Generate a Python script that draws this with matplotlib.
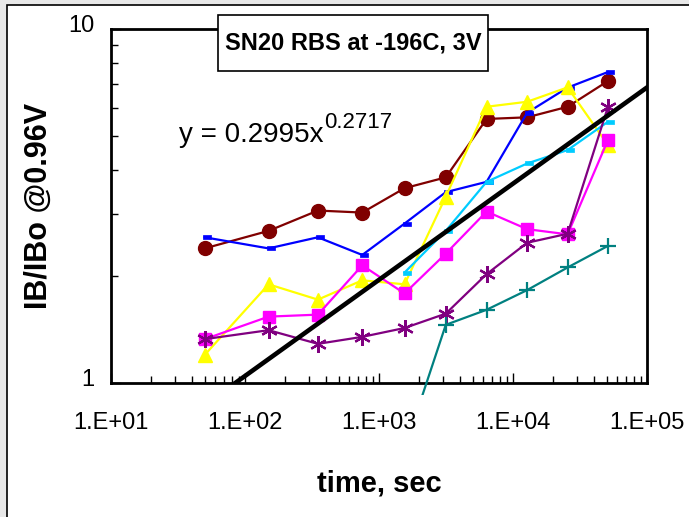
import matplotlib
matplotlib.use('Agg')
import matplotlib.pyplot as plt
import numpy as np
from matplotlib.patches import Rectangle
from matplotlib.path import Path
from matplotlib.ticker import LogLocator, NullFormatter
from matplotlib.transforms import ScaledTranslation

plt.rcParams['font.family'] = ['Liberation Sans', 'DejaVu Sans']

# ---------------- data ----------------
time_s = [50, 150, 350, 750, 1550, 3150, 6350, 12750, 25550, 51150]
time_late = [1550, 3150, 6350, 12750, 25550, 51150]

brown = [2.40, 2.69, 3.07, 3.03, 3.55, 3.81, 5.57, 5.63, 6.03, 7.13]
blue = [2.58, 2.40, 2.58, 2.30, 2.82, 3.46, 3.70, 5.80, 6.83, 7.56]
yellow = [1.20, 1.90, 1.72, 1.95, 1.90, 3.36, 6.03, 6.23, 6.84, 4.70]
magenta = [1.33, 1.54, 1.56, 2.15, 1.79, 2.32, 3.05, 2.72, 2.63, 4.86]
purple = [1.33, 1.41, 1.29, 1.35, 1.43, 1.57, 2.03, 2.49, 2.64, 6.03]
cyan = [2.05, 2.69, 3.70, 4.17, 4.55, 5.47]
teal = [0.65, 1.46, 1.61, 1.83, 2.12, 2.44]

fit_a = 0.2995
fit_b = 0.2717

xtick_values = [1e1, 1e2, 1e3, 1e4, 1e5]
xtick_labels = ['1.E+01', '1.E+02', '1.E+03', '1.E+04', '1.E+05']
ytick_values = [1, 10]
ytick_labels = ['1', '10']

title_text = 'SN20 RBS at -196C, 3V'
eq_main = 'y = 0.2995x'
eq_exp = '0.2717'
xlabel_text = 'time, sec'
ylabel_text = 'IB/IBo @0.96V'

# ---------------- figure ----------------
W, H = 689, 517
fig = plt.figure(figsize=(W / 100, H / 100), dpi=100)
fig.patch.set_facecolor('#e8e8e8')
frame = Rectangle((7 / W, -0.1), 1.2, 1.1 - 5 / H, transform=fig.transFigure,
                  facecolor='white', edgecolor='black', lw=1.2, zorder=-5)
fig.add_artist(frame)

ax = fig.add_axes([111 / W, 1 - 383 / H, 536 / W, 354 / H])
ax.set_facecolor('white')
ax.set_xscale('log')
ax.set_yscale('log')

dash = Path([(-0.55, -0.5), (1.45, -0.5), (1.45, 0.5), (-0.55, 0.5), (-0.55, -0.5)],
            [Path.MOVETO, Path.LINETO, Path.LINETO, Path.LINETO, Path.CLOSEPOLY])

lw = 1.6
ax.plot(time_s, brown, color='#800000', lw=lw, marker='o', ms=10, mec='#800000', zorder=3)
ax.plot(time_s, blue, color='#0000FF', lw=lw, marker=dash, ms=8, mec='#0000FF', mew=0.5, zorder=3)
ax.plot(time_s, yellow, color='#FFFF00', lw=lw, marker='^', ms=10, mec='#FFFF00', zorder=3)
ax.plot(time_s, magenta, color='#FF00FF', lw=lw, marker='s', ms=8.5, mec='#FF00FF', zorder=3)
ax.plot(time_late, cyan, color='#00CCFF', lw=lw, marker=dash, ms=8, mec='#00CCFF', mew=0.5, zorder=3)
ax.plot(time_s, purple, color='#800080', lw=lw, marker=(6, 2, 0), ms=12, mew=1.6, zorder=4)
teal_line, = ax.plot(time_late, teal, color='#008080', lw=lw, marker='+', ms=12, mew=1.6, zorder=4)
clip = Rectangle((0, -12 / 354), 1, 1 + 12 / 354, transform=ax.transAxes, visible=False)
ax.add_patch(clip)
teal_line.set_clip_path(clip)

xfit = np.logspace(1, 5, 200)
ax.plot(xfit, fit_a * xfit ** fit_b, color='black', lw=3.3, zorder=5)

ax.set_xlim(1e1, 1e5)
ax.set_ylim(1, 10)

ax.set_xticks(xtick_values)
ax.set_xticklabels(xtick_labels)
ax.set_yticks(ytick_values)
ax.set_yticklabels(ytick_labels)
ax.xaxis.set_minor_locator(LogLocator(base=10, subs=np.arange(2, 10)))
ax.yaxis.set_minor_locator(LogLocator(base=10, subs=np.arange(2, 10)))
ax.xaxis.set_minor_formatter(NullFormatter())
ax.yaxis.set_minor_formatter(NullFormatter())

ax.tick_params(axis='both', which='major', direction='in', length=7, width=1, labelsize=17)
ax.tick_params(axis='both', which='minor', direction='in', length=5, width=1)
ax.tick_params(axis='x', which='major', pad=21)
ax.tick_params(axis='y', which='major', pad=12)
for lab in ax.get_yticklabels():
    lab.set_transform(lab.get_transform() + ScaledTranslation(0, 5 / 100, fig.dpi_scale_trans))

for sp in ax.spines.values():
    sp.set_linewidth(2.0)
    sp.set_color('black')

ax.set_xlabel(xlabel_text, fontsize=21, fontweight='bold')
ax.xaxis.set_label_coords(0.5, -(470 - 383) / 354)
ax.set_ylabel(ylabel_text, fontsize=22, fontweight='bold')
ax.yaxis.set_label_coords(-(111 - 54) / 536, 0.5)

# title box
tbox = Rectangle((218 / W, 1 - 71 / H), 270 / W, 56 / H, transform=fig.transFigure,
                 facecolor='white', edgecolor='black', lw=1.2, zorder=5)
fig.add_artist(tbox)
fig.text(353 / W, 1 - 43 / H, title_text, ha='center', va='center',
         fontsize=17, fontweight='bold', zorder=6)

# trend-line equation
fig.text(179 / W, 1 - 142 / H, eq_main, ha='left', va='baseline', fontsize=20, zorder=6)
fig.text(324 / W, 1 - 128 / H, eq_exp, ha='left', va='baseline', fontsize=16, zorder=6)

fig.savefig('out.png', dpi=100, facecolor=fig.get_facecolor())
